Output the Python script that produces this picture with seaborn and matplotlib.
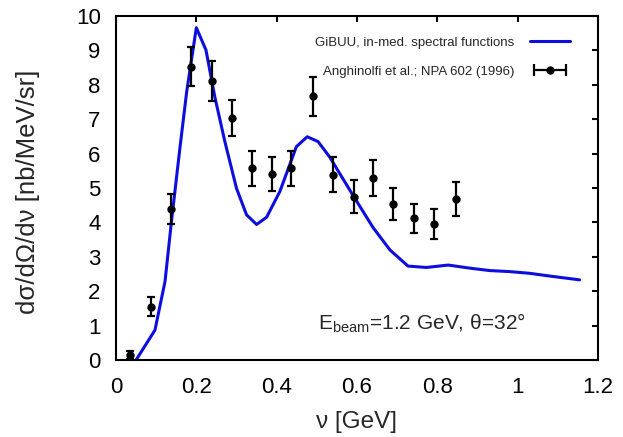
import matplotlib
matplotlib.use("Agg")
import matplotlib.pyplot as plt
import seaborn as sns
import pandas as pd
from matplotlib.lines import Line2D
from matplotlib.legend_handler import HandlerLine2D, HandlerTuple

# ---- data ----
nu_theory = [0.050, 0.097, 0.122, 0.138, 0.159, 0.176, 0.200, 0.224, 0.246, 0.271,
             0.300, 0.325, 0.350, 0.375, 0.408, 0.449, 0.476, 0.503, 0.532, 0.592,
             0.640, 0.682, 0.727, 0.773, 0.827, 0.881, 0.930, 0.980, 1.030, 1.080, 1.154]
xs_theory = [0.00, 0.87, 2.28, 4.02, 6.15, 7.80, 9.66, 9.01, 7.65, 6.35,
             4.99, 4.22, 3.94, 4.15, 4.90, 6.20, 6.49, 6.35, 5.90, 4.75,
             3.85, 3.20, 2.73, 2.69, 2.76, 2.67, 2.60, 2.57, 2.52, 2.44, 2.33]

nu_exp = [0.035, 0.086, 0.136, 0.187, 0.239, 0.289, 0.338, 0.389, 0.436, 0.490,
          0.541, 0.592, 0.640, 0.689, 0.741, 0.791, 0.846]
xs_exp = [0.15, 1.55, 4.38, 8.53, 8.11, 7.03, 5.57, 5.40, 5.57, 7.67,
          5.39, 4.75, 5.28, 4.53, 4.12, 3.95, 4.68]
err_exp = [0.12, 0.27, 0.44, 0.56, 0.58, 0.52, 0.50, 0.50, 0.52, 0.57,
           0.52, 0.47, 0.52, 0.47, 0.42, 0.44, 0.50]

x_ticks = [0, 0.2, 0.4, 0.6, 0.8, 1.0, 1.2]
x_ticklabels = ["0", "0.2", "0.4", "0.6", "0.8", "1", "1.2"]
y_ticks = list(range(0, 11))

label_theory = "GiBUU, in-med. spectral functions"
label_exp = "Anghinolfi et al.; NPA 602 (1996)"
annotation = r"E$_\mathrm{beam}$=1.2 GeV, θ=32°"
xlabel = "ν [GeV]"
ylabel = "dσ/dΩ/dν [nb/MeV/sr]"

# ---- style ----
sns.set_style("white")
plt.rcParams["font.family"] = ["Liberation Sans", "DejaVu Sans"]
plt.rcParams["mathtext.fontset"] = "custom"
plt.rcParams["mathtext.rm"] = "Liberation Sans"
plt.rcParams["mathtext.it"] = "Liberation Sans:italic"

BLUE = "#0d0de0"

fig = plt.figure(figsize=(6.23, 4.37), dpi=100)
ax = fig.add_axes([116/623, 77/437, (598-116)/623, (360-16)/437])

df_th = pd.DataFrame({"nu": nu_theory, "xs": xs_theory})
sns.lineplot(data=df_th, x="nu", y="xs", ax=ax, color=BLUE, lw=2.2, sort=False)

ax.errorbar(nu_exp, xs_exp, yerr=err_exp, fmt="o", color="black", ms=5,
            elinewidth=1.6, capsize=2.8, capthick=1.6, zorder=3)

ax.set_xlim(0, 1.2)
ax.set_ylim(0, 10)
ax.set_xticks(x_ticks)
ax.set_xticklabels(x_ticklabels)
ax.set_yticks(y_ticks)

for s in ax.spines.values():
    s.set_linewidth(1.5)
    s.set_color("black")
ax.tick_params(direction="in", length=4.5, width=1.5, top=True, right=True,
               labelsize=16, colors="black")
ax.tick_params(axis="x", pad=12)
ax.tick_params(axis="y", pad=11)

ax.set_xlabel(xlabel, fontsize=17.5)
ax.set_ylabel(ylabel, fontsize=18.5)
ax.xaxis.set_label_coords(0.5, -0.148)
ax.yaxis.set_label_coords(-0.158, 0.49)

ax.text(0.502, 0.87, annotation, fontsize=15, ha="left", va="baseline")

# legend (text left of sample, gnuplot-style)
h_theory = Line2D([], [], color=BLUE, lw=2.2)
h_bar = Line2D([], [], color="black", lw=1.6, marker="|", ms=8, mew=1.6)
h_dot = Line2D([], [], color="black", ls="none", marker="o", ms=5)
leg = ax.legend([h_theory, (h_bar, h_dot)], [label_theory, label_exp],
                handler_map={h_bar: HandlerLine2D(numpoints=2),
                             h_dot: HandlerLine2D(numpoints=1),
                             tuple: HandlerTuple(ndivide=1)},
                loc="upper right", bbox_to_anchor=(0.942, 0.94),
                frameon=False, markerfirst=False, fontsize=9.5,
                handlelength=3.0, handletextpad=1.2, labelspacing=1.25,
                borderpad=0, borderaxespad=0)

fig.savefig("out.png", dpi=100)
